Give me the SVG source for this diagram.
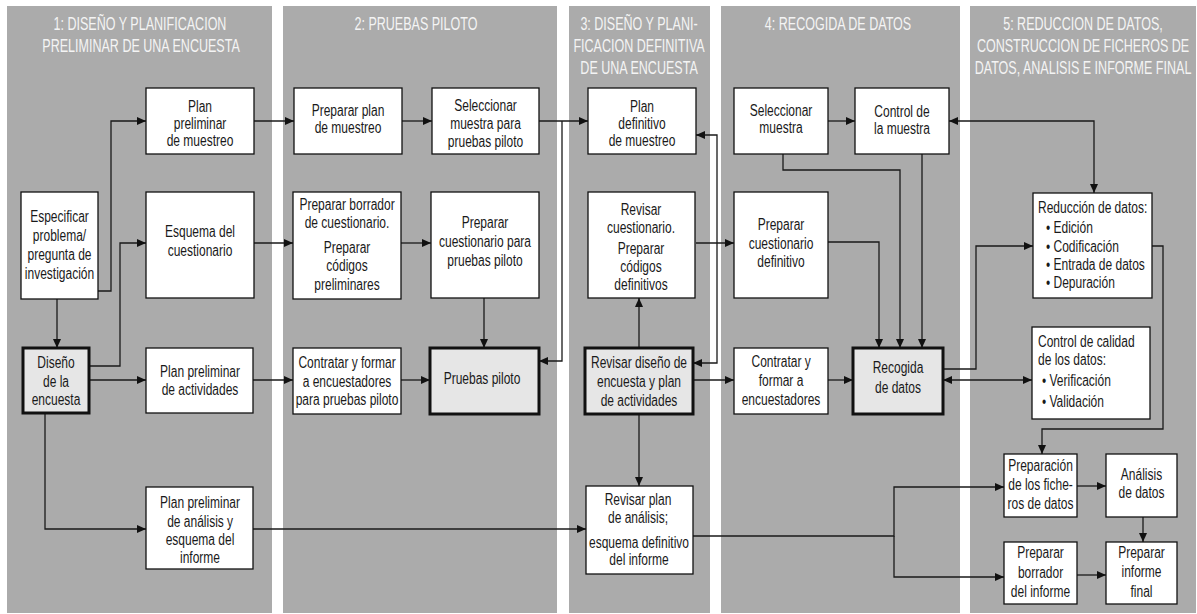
<svg xmlns="http://www.w3.org/2000/svg" width="1197" height="614" viewBox="0 0 1197 614">
<style>
.panel{fill:#ababab}
.box{fill:#fff;stroke:#111;stroke-width:1.3}
.key{fill:#e6e6e6;stroke:#111;stroke-width:3}
text{font-family:"Liberation Sans",Arial,sans-serif;transform-box:fill-box;transform-origin:center;transform:scaleX(0.75)}
.t{font-size:16px;fill:#1a1a1a;text-anchor:middle}
.l{font-size:16px;fill:#1a1a1a;text-anchor:start;transform-origin:left center}
.title{font-size:19px;fill:#f4f4f4;text-anchor:middle;transform:scaleX(0.66)}
.c path{fill:none;stroke:#1a1a1a;stroke-width:1.3}
.c .e{marker-end:url(#ah)}
.c .b{marker-start:url(#ah);marker-end:url(#ah)}
</style>
<defs>
<marker id="ah" markerUnits="userSpaceOnUse" markerWidth="9" markerHeight="8" refX="9" refY="4" orient="auto-start-reverse">
<path d="M0,0 L9,4 L0,8 z" fill="#111"/>
</marker>
</defs>
<rect width="1197" height="614" fill="#fff"/>
<g id="panels">
<rect class="panel" x="7" y="6" width="265" height="607"/>
<rect class="panel" x="283" y="6" width="274" height="607"/>
<rect class="panel" x="569" y="6" width="141" height="607"/>
<rect class="panel" x="721" y="6" width="239" height="607"/>
<rect class="panel" x="970" y="6" width="226" height="607"/>
</g>
<g id="titles">
<text class="title" x="140" y="30">1: DISEÑO Y PLANIFICACION</text>
<text class="title" x="141" y="52">PRELIMINAR DE UNA ENCUESTA</text>
<text class="title" x="416" y="30">2: PRUEBAS PILOTO</text>
<text class="title" x="639" y="30">3: DISEÑO Y PLANI-</text>
<text class="title" x="639" y="52">FICACION DEFINITIVA</text>
<text class="title" x="639" y="74">DE UNA ENCUESTA</text>
<text class="title" x="838" y="30">4: RECOGIDA DE DATOS</text>
<text class="title" x="1083" y="30">5: REDUCCION DE DATOS,</text>
<text class="title" x="1083" y="52">CONSTRUCCION DE FICHEROS DE</text>
<text class="title" x="1083" y="74">DATOS, ANALISIS E INFORME FINAL</text>
</g>
<g class="c" id="connectors">
<path class="e" d="M98,291 H111 V121 H146"/>
<path class="e" d="M89,366 H120 V243 H146"/>
<path class="e" d="M57,299 V348"/>
<path class="e" d="M89,380 H146"/>
<path class="e" d="M45,413 V529 H146"/>
<path class="e" d="M254,121 H294"/>
<path class="e" d="M254,243 H293"/>
<path class="e" d="M253,380 H293"/>
<path class="e" d="M253,529 H586"/>
<path class="e" d="M402,121 H432"/>
<path class="e" d="M401,243 H431"/>
<path class="e" d="M401,380 H430"/>
<path class="e" d="M484,298 V348"/>
<path class="e" d="M539,121 H588"/>
<path class="e" d="M562,121 V361 H539"/>
<path class="b" d="M696,135 H717 V363 H693"/>
<path class="e" d="M696,243 H734"/>
<path class="e" d="M639,348 V298"/>
<path class="e" d="M639,414 V486"/>
<path class="e" d="M693,380 H734"/>
<path class="e" d="M828,121 H855"/>
<path class="e" d="M828,380 H853"/>
<path class="e" d="M783,154 V170 H900 V348"/>
<path class="e" d="M922,154 V348"/>
<path class="e" d="M828,242 H879 V348"/>
<path class="b" d="M949,121 H1094 V193"/>
<path class="e" d="M943,369 H976 V246 H1033"/>
<path class="b" d="M943,380 H1032"/>
<path class="e" d="M1152,246 H1163 V429 H1042 V454"/>
<path class="e" d="M693,536 H894 V487 H1004"/>
<path class="e" d="M894,536 V577 H1004"/>
<path class="e" d="M1077,486 H1106"/>
<path class="e" d="M1143,517 V542"/>
<path class="e" d="M1077,575 H1106"/>
</g>
<g id="n-especificar"><rect class="box" x="21" y="192" width="77" height="107"/>
<text class="t" x="59.5" y="222">Especificar</text><text class="t" x="59.5" y="241">problema/</text><text class="t" x="59.5" y="260">pregunta de</text><text class="t" x="59.5" y="279">investigación</text></g>
<g id="n-diseno"><rect class="key" x="23" y="348" width="66" height="65"/>
<text class="t" x="56" y="368">Diseño</text><text class="t" x="56" y="387">de la</text><text class="t" x="56" y="405">encuesta</text></g>
<g id="n-plan-prelim-muestreo"><rect class="box" x="146" y="88" width="108" height="66"/>
<text class="t" x="200" y="112">Plan</text><text class="t" x="200" y="129">preliminar</text><text class="t" x="200" y="146">de muestreo</text></g>
<g id="n-esquema"><rect class="box" x="146" y="192" width="108" height="106"/>
<text class="t" x="200" y="237">Esquema del</text><text class="t" x="200" y="256">cuestionario</text></g>
<g id="n-plan-prelim-act"><rect class="box" x="146" y="348" width="107" height="65"/>
<text class="t" x="200" y="377">Plan preliminar</text><text class="t" x="200" y="395">de actividades</text></g>
<g id="n-plan-prelim-analisis"><rect class="box" x="146" y="487" width="107" height="82"/>
<text class="t" x="200" y="508">Plan preliminar</text><text class="t" x="200" y="527">de análisis y</text><text class="t" x="200" y="545">esquema del</text><text class="t" x="200" y="563">informe</text></g>
<g id="n-preparar-plan"><rect class="box" x="294" y="88" width="108" height="66"/>
<text class="t" x="348" y="116">Preparar plan</text><text class="t" x="348" y="133">de muestreo</text></g>
<g id="n-seleccionar-piloto"><rect class="box" x="432" y="88" width="107" height="66"/>
<text class="t" x="485.5" y="111">Seleccionar</text><text class="t" x="485.5" y="129">muestra para</text><text class="t" x="485.5" y="147">pruebas piloto</text></g>
<g id="n-borrador-cuest"><rect class="box" x="293" y="192" width="108" height="107"/>
<text class="t" x="347" y="210">Preparar borrador</text><text class="t" x="347" y="228">de cuestionario.</text><text class="t" x="347" y="253">Preparar</text><text class="t" x="347" y="271">códigos</text><text class="t" x="347" y="290">preliminares</text></g>
<g id="n-cuest-piloto"><rect class="box" x="431" y="192" width="108" height="106"/>
<text class="t" x="485" y="228">Preparar</text><text class="t" x="485" y="247">cuestionario para</text><text class="t" x="485" y="266">pruebas piloto</text></g>
<g id="n-contratar-piloto"><rect class="box" x="293" y="348" width="108" height="66"/>
<text class="t" x="347" y="368">Contratar y formar</text><text class="t" x="347" y="387">a encuestadores</text><text class="t" x="347" y="405">para pruebas piloto</text></g>
<g id="n-pruebas-piloto"><rect class="key" x="430" y="348" width="109" height="66"/>
<text class="t" x="482" y="384">Pruebas piloto</text></g>
<g id="n-plan-def-muestreo"><rect class="box" x="588" y="88" width="108" height="66"/>
<text class="t" x="642" y="112">Plan</text><text class="t" x="642" y="129">definitivo</text><text class="t" x="642" y="146">de muestreo</text></g>
<g id="n-revisar-cuest"><rect class="box" x="588" y="192" width="107" height="106"/>
<text class="t" x="641" y="215">Revisar</text><text class="t" x="641" y="233">cuestionario.</text><text class="t" x="641" y="254">Preparar</text><text class="t" x="641" y="272">códigos</text><text class="t" x="641" y="290">definitivos</text></g>
<g id="n-revisar-diseno"><rect class="key" x="585" y="348" width="108" height="66"/>
<text class="t" x="639" y="368">Revisar diseño de</text><text class="t" x="639" y="387">encuesta y plan</text><text class="t" x="639" y="406">de actividades</text></g>
<g id="n-revisar-analisis"><rect class="box" x="586" y="486" width="107" height="88"/>
<text class="t" x="638" y="505">Revisar plan</text><text class="t" x="638" y="523">de análisis;</text><text class="t" x="639" y="548">esquema definitivo</text><text class="t" x="639" y="565">del informe</text></g>
<g id="n-seleccionar"><rect class="box" x="734" y="88" width="94" height="66"/>
<text class="t" x="781" y="116">Seleccionar</text><text class="t" x="781" y="133">muestra</text></g>
<g id="n-control-muestra"><rect class="box" x="855" y="88" width="94" height="66"/>
<text class="t" x="902" y="117">Control de</text><text class="t" x="902" y="134">la muestra</text></g>
<g id="n-cuest-def"><rect class="box" x="734" y="192" width="94" height="106"/>
<text class="t" x="781" y="230">Preparar</text><text class="t" x="781" y="249">cuestionario</text><text class="t" x="781" y="267">definitivo</text></g>
<g id="n-contratar"><rect class="box" x="734" y="348" width="94" height="66"/>
<text class="t" x="781" y="367">Contratar y</text><text class="t" x="781" y="386">formar a</text><text class="t" x="781" y="405">encuestadores</text></g>
<g id="n-recogida"><rect class="key" x="853" y="348" width="90" height="66"/>
<text class="t" x="898" y="373">Recogida</text><text class="t" x="898" y="393">de datos</text></g>
<g id="n-reduccion"><rect class="box" x="1033" y="193" width="119" height="105"/>
<text class="l" x="1038" y="213">Reducción de datos:</text>
<text class="l" x="1046" y="233">• Edición</text><text class="l" x="1046" y="252">• Codificación</text><text class="l" x="1046" y="270">• Entrada de datos</text><text class="l" x="1046" y="288">• Depuración</text></g>
<g id="n-control-calidad"><rect class="box" x="1032" y="327" width="118" height="92"/>
<text class="l" x="1038" y="347">Control de calidad</text><text class="l" x="1038" y="365">de los datos:</text>
<text class="l" x="1042" y="386">• Verificación</text><text class="l" x="1042" y="407">• Validación</text></g>
<g id="n-ficheros"><rect class="box" x="1004" y="454" width="73" height="63"/>
<text class="t" x="1040.5" y="471">Preparación</text><text class="t" x="1040.5" y="490">de los fiche-</text><text class="t" x="1040.5" y="509">ros de datos</text></g>
<g id="n-analisis"><rect class="box" x="1106" y="454" width="71" height="63"/>
<text class="t" x="1141.5" y="480">Análisis</text><text class="t" x="1141.5" y="498">de datos</text></g>
<g id="n-borrador-informe"><rect class="box" x="1004" y="542" width="73" height="62"/>
<text class="t" x="1040.5" y="558">Preparar</text><text class="t" x="1040.5" y="578">borrador</text><text class="t" x="1040.5" y="597">del informe</text></g>
<g id="n-informe-final"><rect class="box" x="1106" y="542" width="71" height="62"/>
<text class="t" x="1141.5" y="558">Preparar</text><text class="t" x="1141.5" y="577">informe</text><text class="t" x="1141.5" y="597">final</text></g>
</svg>
